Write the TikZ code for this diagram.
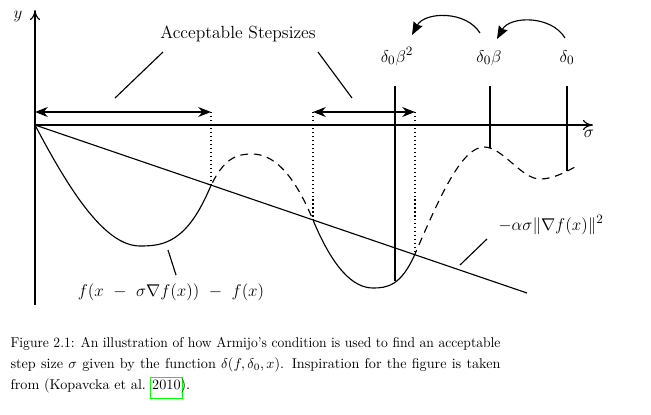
\documentclass[tikz,border=0pt]{standalone}
\usepackage{amsmath}
\usetikzlibrary{arrows.meta,calc}

\definecolor{linkgreen}{rgb}{0,1,0}
\newcommand{\linkbox}[1]{{\setlength{\fboxsep}{1pt}\setlength{\fboxrule}{0.4pt}\kern-1.4pt\fcolorbox{linkgreen}{white}{\rule[-4.9pt]{0pt}{12.7pt}#1}\kern-1.4pt}}
% the function: pieces with matched slopes
\def\armijo{(35,125) .. controls (70,191.5) and (105,246) .. (140,246)
	.. controls (163,246) and (186,242.9) .. (209,190)
	.. controls (223.3,157) and (237.7,154) .. (252,154)
	.. controls (272.3,154) and (292.7,171.2) .. (313,220)
	.. controls (333,268) and (353,288) .. (373,288)
	.. controls (387,288) and (401,286) .. (415,254)
	.. controls (438,201) and (461,147) .. (484,147)
	.. controls (502.7,147) and (521.3,179) .. (540,179)
	.. controls (551.7,179) and (563.3,173.4) .. (575,167)}

\tikzset{
	axis/.style={-{To[length=7pt,width=7pt]}},
	span/.style={{Stealth[length=9pt,width=7pt]}-{Stealth[length=9pt,width=7pt]}},
	stepjump/.style={-{Stealth[length=9pt,width=7pt,inset=1pt]}, bend right=60},
	lbl/.style={font=\fontsize{12.4}{14}\selectfont, inner sep=0pt},
}

\begin{document}
\begin{tikzpicture}[x=0.7042pt, y=-0.7042pt, line width=0.8pt]
	%%%%% START %%%%%
	\useasboundingbox (0,0) rectangle (651,415);
	
	% axes
	\coordinate (O) at (35,125);
	\draw[axis] (35,305) -- (35,10);
	\draw[axis] (O) -- (593,125);
	\node[lbl] (ylab) at (18,16) {$y$};
	\node[lbl] (siglab) at (589,134) {$\sigma$};
	
	% sufficient decrease line
	\coordinate (lineend) at (527,293);
	\draw (O) -- (lineend);
	
	% the function, solid where accepted
	\begin{scope}
		\clip (0,0) rectangle (211,415) (313,0) rectangle (415,415);
		\draw \armijo;
	\end{scope}
	\begin{scope}
		\clip (211,0) rectangle (313,415) (415,0) rectangle (651,415);
		\draw[dash pattern=on 5.5pt off 4pt] \armijo;
	\end{scope}
	
	% accepted intervals
	\draw[span] (35,112) -- (211,112);
	\draw[span] (313,112) -- (415,112);
	\draw[dotted] (211,112) -- (211,185);
	\draw[dotted] (313,112) -- (313,220);
	\draw[dotted] (415,112) -- (415,254);
	
	\node[lbl, anchor=base] (accept) at (238,38) {Acceptable Stepsizes};
	\coordinate (accA) at (163,52);
	\coordinate (accB) at (115,98);
	\coordinate (accC) at (318,52);
	\coordinate (accD) at (352,98);
	\draw (accA) -- (accB);
	\draw (accC) -- (accD);
	
	% trial step sizes
	\node[lbl, anchor=base] (dbb) at (397,62) {$\delta_0\beta^2$};
	\node[lbl, anchor=base] (db) at (489,62) {$\delta_0\beta$};
	\node[lbl, anchor=base] (d0) at (567,62) {$\delta_0$};
	\draw (395,86) -- (395,281);
	\draw (490,86) -- (490,148);
	\draw (567,86) -- (567,171);
	
	\coordinate (d0top) at (565,38);
	\coordinate (dbtip) at (497,39);
	\coordinate (dbtop) at (480,33);
	\coordinate (dbbtip) at (412,35);
	\draw[stepjump] (d0top) to (dbtip);
	\draw[stepjump] (dbtop) to (dbbtip);
	
	% labels of the two curves
	\node[lbl, anchor=base] (flab) at (171,296) {$f(x\ -\ \sigma\nabla f(x))\ -\ f(x)$};
	\coordinate (fA) at (168,250);
	\coordinate (fB) at (176,275);
	\draw (fA) -- (fB);
	
	\node[lbl, anchor=base] (glab) at (551,230) {$-\alpha\sigma\|\nabla f(x)\|^2$};
	\coordinate (gA) at (487,239);
	\coordinate (gB) at (460,265);
	\draw (gA) -- (gB);
	
	% caption
	\node[anchor=north west, align=left, inner sep=0pt, font=\fontsize{10}{14.8}\selectfont] (caption) at (10,337) {\resizebox{345pt}{\height}{Figure 2.1: An illustration of how Armijo's condition is used to find an acceptable}\\ \makebox[345pt][s]{step size $\sigma$ given by the function $\delta(f,\delta_0,x)$. Inspiration for the figure is taken}\\ from (Kopavcka et al. \linkbox{2010}).};
	%%%%% END %%%%%
\end{tikzpicture}
\end{document}
